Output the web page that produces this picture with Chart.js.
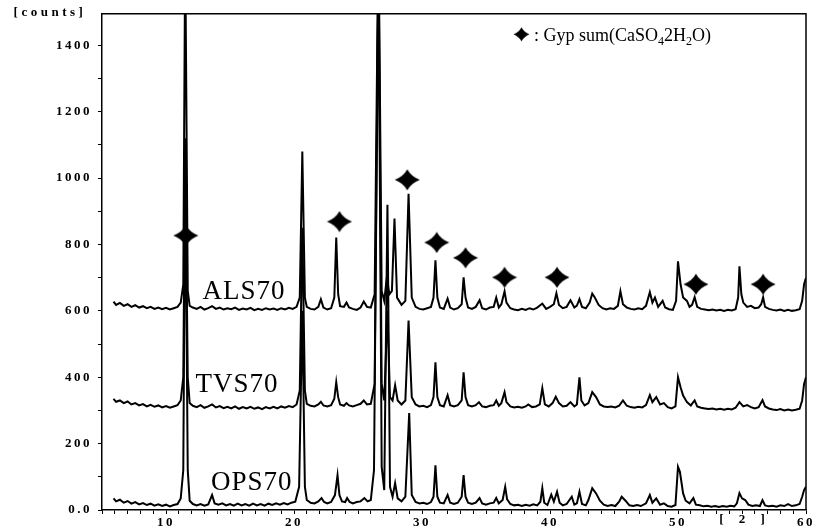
<!DOCTYPE html>
<html>
<head>
<meta charset="utf-8">
<script src="https://cdn.jsdelivr.net/npm/chart.js@4/dist/chart.umd.min.js"></script>
<style>
  html, body { margin: 0; padding: 0; background: #fff; }
  canvas { display: block; }
</style>
</head>
<body>
<canvas id="xrdChart" width="826" height="531"></canvas>
<script>
// 2-theta / counts pairs, one trace per sample (offset as drawn)
const als70 = [
  [5.9,628],[6.1,618],[6.4,624],[6.7,615],[7.0,620],[7.3,612],[7.6,617],[7.9,610],[8.2,614],[8.5,608],
  [8.8,612],[9.1,606],[9.4,610],[9.7,605],[10.0,609],[10.3,604],[10.6,608],[10.9,612],[11.15,625],[11.35,680],
  [11.5,1700],[11.7,660],[11.85,615],[12.1,610],[12.4,606],[12.7,612],[13.0,604],[13.3,608],[13.6,614],[13.9,606],
  [14.2,610],[14.5,604],[14.8,608],[15.1,605],[15.4,610],[15.7,603],[16.0,607],[16.3,604],[16.6,609],[16.9,602],
  [17.2,606],[17.5,603],[17.8,608],[18.1,604],[18.4,607],[18.7,603],[19.0,608],[19.3,604],[19.6,609],[19.9,606],
  [20.2,612],[20.45,640],[20.65,1080],[20.85,640],[21.0,612],[21.3,606],[21.6,604],[21.9,612],[22.1,635],[22.3,610],
  [22.6,604],[22.9,608],[23.15,640],[23.3,821],[23.45,650],[23.6,614],[23.9,612],[24.1,625],[24.3,610],[24.6,606],
  [24.9,603],[25.2,610],[25.45,628],[25.7,612],[26.0,610],[26.3,650],[26.6,1750],[26.85,660],[27.05,630],[27.25,700],
  [27.45,650],[27.65,660],[27.85,878],[28.05,640],[28.4,618],[28.7,630],[28.95,953],[29.2,640],[29.5,612],[29.8,606],
  [30.1,604],[30.4,608],[30.7,612],[30.9,640],[31.05,752],[31.2,640],[31.4,610],[31.7,606],[32.0,637],[32.2,610],
  [32.5,604],[32.8,608],[33.1,620],[33.25,701],[33.4,640],[33.6,610],[33.9,606],[34.2,612],[34.5,632],[34.7,608],
  [35.0,604],[35.3,610],[35.6,612],[35.8,640],[36.0,610],[36.2,620],[36.45,659],[36.6,625],[36.9,608],[37.2,604],
  [37.5,602],[37.8,606],[38.1,603],[38.4,608],[38.7,604],[39.0,610],[39.4,622],[39.7,606],[40.0,612],[40.3,620],
  [40.5,653],[40.7,618],[41.0,608],[41.3,612],[41.6,632],[41.9,610],[42.1,616],[42.3,635],[42.5,612],[42.8,608],
  [43.1,625],[43.3,652],[43.5,640],[43.8,618],[44.1,608],[44.4,604],[44.7,608],[45.0,606],[45.3,615],[45.5,659],
  [45.7,620],[46.0,610],[46.3,606],[46.6,604],[46.9,608],[47.2,605],[47.5,615],[47.8,656],[48.0,625],[48.2,640],
  [48.45,612],[48.8,630],[49.0,610],[49.3,605],[49.6,603],[49.85,630],[50.0,749],[50.2,680],[50.4,640],[50.7,630],
  [50.9,612],[51.1,618],[51.3,641],[51.5,612],[51.8,606],[52.1,604],[52.4,602],[52.7,604],[53.0,601],[53.3,603],
  [53.6,600],[53.9,603],[54.2,601],[54.5,605],[54.7,640],[54.8,734],[54.95,650],[55.1,625],[55.4,612],[55.7,615],
  [56.0,608],[56.3,610],[56.5,620],[56.65,641],[56.8,612],[57.1,606],[57.4,603],[57.7,601],[58.0,604],[58.3,600],
  [58.6,603],[58.9,600],[59.2,602],[59.5,605],[59.7,630],[59.85,680],[60.0,700]
];

const tvs70 = [
  [5.9,335],[6.1,326],[6.4,330],[6.7,322],[7.0,327],[7.3,318],[7.6,322],[7.9,315],[8.2,319],[8.5,312],
  [8.8,317],[9.1,311],[9.4,315],[9.7,309],[10.0,313],[10.3,308],[10.6,312],[10.9,316],[11.15,330],[11.35,400],
  [11.5,1120],[11.7,400],[11.85,322],[12.1,314],[12.4,310],[12.7,316],[13.0,308],[13.3,312],[13.6,318],[13.9,309],
  [14.2,313],[14.5,307],[14.8,311],[15.1,306],[15.4,312],[15.7,305],[16.0,310],[16.3,306],[16.6,311],[16.9,305],
  [17.2,309],[17.5,304],[17.8,310],[18.1,306],[18.4,311],[18.7,306],[19.0,312],[19.3,308],[19.6,313],[19.9,310],
  [20.2,318],[20.45,360],[20.65,850],[20.85,360],[21.0,320],[21.3,314],[21.6,312],[21.9,318],[22.1,326],[22.3,315],
  [22.6,312],[22.9,316],[23.15,335],[23.3,385],[23.45,340],[23.6,318],[23.9,314],[24.1,322],[24.3,315],[24.6,312],
  [24.9,316],[25.2,320],[25.45,330],[25.7,318],[26.0,320],[26.3,380],[26.6,1700],[26.85,380],[27.05,330],[27.3,600],
  [27.5,340],[27.7,330],[27.9,376],[28.1,330],[28.4,318],[28.7,330],[28.95,571],[29.2,340],[29.5,318],[29.8,312],
  [30.1,314],[30.4,310],[30.7,316],[30.9,340],[31.05,445],[31.2,340],[31.4,316],[31.7,312],[32.0,346],[32.2,316],
  [32.5,312],[32.8,316],[33.1,330],[33.25,415],[33.4,340],[33.6,316],[33.9,312],[34.2,316],[34.45,325],[34.7,312],
  [35.0,310],[35.3,314],[35.6,316],[35.8,330],[36.0,314],[36.2,322],[36.45,355],[36.6,325],[36.9,312],[37.2,309],
  [37.5,311],[37.8,308],[38.1,312],[38.3,318],[38.6,310],[38.9,312],[39.2,318],[39.4,367],[39.6,318],[39.9,312],
  [40.2,322],[40.45,341],[40.7,322],[41.0,312],[41.3,314],[41.6,325],[41.9,312],[42.1,318],[42.3,400],[42.45,330],
  [42.7,315],[43.0,322],[43.3,355],[43.6,340],[43.9,318],[44.2,312],[44.5,310],[44.8,312],[45.1,309],[45.4,314],
  [45.7,330],[46.0,314],[46.3,310],[46.6,308],[46.9,311],[47.2,309],[47.5,316],[47.8,346],[48.0,325],[48.3,340],
  [48.6,318],[48.9,322],[49.2,310],[49.5,306],[49.8,312],[50.0,400],[50.2,370],[50.4,345],[50.7,325],[51.0,315],
  [51.3,330],[51.5,312],[51.8,308],[52.1,306],[52.4,304],[52.7,306],[53.0,303],[53.3,305],[53.6,302],[53.9,305],
  [54.2,303],[54.5,308],[54.8,325],[55.1,312],[55.4,316],[55.7,310],[56.0,306],[56.3,310],[56.6,331],[56.8,312],
  [57.1,306],[57.4,303],[57.7,301],[58.0,304],[58.3,300],[58.6,303],[58.9,300],[59.2,302],[59.5,305],[59.7,330],
  [59.85,380],[60.0,400]
];

const ops70 = [
  [5.9,35],[6.1,26],[6.4,31],[6.7,22],[7.0,27],[7.3,19],[7.6,24],[7.9,17],[8.2,21],[8.5,15],
  [8.8,19],[9.1,13],[9.4,17],[9.7,12],[10.0,16],[10.3,11],[10.6,15],[10.9,18],[11.15,35],[11.35,120],
  [11.5,1045],[11.7,120],[11.85,28],[12.1,18],[12.4,14],[12.7,18],[13.0,13],[13.3,17],[13.6,45],[13.8,20],
  [14.1,16],[14.4,20],[14.7,14],[15.0,18],[15.3,13],[15.6,19],[15.9,14],[16.2,18],[16.5,13],[16.8,19],
  [17.1,14],[17.4,18],[17.7,13],[18.0,19],[18.3,15],[18.6,20],[18.9,16],[19.2,21],[19.5,17],[19.8,22],
  [20.1,25],[20.4,70],[20.65,600],[20.85,70],[21.0,30],[21.3,22],[21.6,20],[21.9,26],[22.15,36],[22.35,24],
  [22.6,20],[22.9,24],[23.2,45],[23.4,105],[23.55,45],[23.75,26],[24.0,24],[24.15,36],[24.35,24],[24.6,20],
  [24.9,24],[25.2,26],[25.5,36],[25.75,26],[26.0,30],[26.25,120],[26.6,1650],[26.85,130],[27.05,60],[27.3,920],
  [27.5,70],[27.7,40],[27.9,81],[28.1,35],[28.4,26],[28.7,40],[29.0,292],[29.2,45],[29.5,24],[29.8,20],
  [30.1,22],[30.4,18],[30.7,24],[30.9,40],[31.05,135],[31.2,40],[31.4,22],[31.7,20],[32.0,45],[32.2,22],
  [32.5,18],[32.8,22],[33.1,40],[33.25,105],[33.4,40],[33.6,22],[33.9,18],[34.2,22],[34.5,36],[34.7,20],
  [35.0,16],[35.3,20],[35.6,22],[35.8,36],[36.0,20],[36.3,30],[36.5,70],[36.65,32],[36.9,18],[37.2,14],
  [37.5,16],[37.8,12],[38.1,16],[38.4,13],[38.7,17],[39.0,14],[39.25,25],[39.4,66],[39.55,22],[39.8,15],
  [40.1,46],[40.3,25],[40.55,55],[40.75,22],[41.0,14],[41.3,18],[41.7,40],[41.9,16],[42.1,20],[42.3,55],
  [42.5,18],[42.8,14],[43.0,30],[43.3,66],[43.6,50],[43.9,28],[44.2,16],[44.5,12],[44.8,15],[45.1,12],
  [45.4,25],[45.6,40],[45.9,28],[46.2,14],[46.5,12],[46.8,15],[47.1,12],[47.5,20],[47.8,45],[48.0,22],
  [48.3,35],[48.6,16],[48.9,20],[49.2,12],[49.5,10],[49.8,15],[50.0,130],[50.15,115],[50.4,50],[50.6,28],
  [50.9,20],[51.2,36],[51.4,16],[51.7,14],[52.0,11],[52.3,13],[52.6,10],[52.9,12],[53.2,9],[53.5,12],
  [53.8,10],[54.1,13],[54.4,11],[54.6,20],[54.8,51],[55.0,35],[55.25,30],[55.5,16],[55.8,12],[56.1,14],
  [56.4,12],[56.6,30],[56.8,14],[57.1,11],[57.4,13],[57.7,10],[58.0,14],[58.3,12],[58.6,18],[58.9,12],
  [59.2,14],[59.5,18],[59.7,40],[59.85,60],[60.0,70]
];

// gypsum reflections flagged on the ALS70 trace
const gypsumX = [11.55, 23.55, 28.85, 31.15, 33.4, 36.45, 40.55, 51.4, 56.65];
const gypsumY = [827, 869, 995, 806, 760, 701, 701, 680, 680];

const seriesNames = ['ALS70', 'TVS70', 'OPS70'];
const xTickLabels = [10, 20, 30, 40, 50, 60];
const yTickValues = [0, 200, 400, 600, 800, 1000, 1200, 1400];
const yTickLabels = ['0.0', '200', '400', '600', '800', '1000', '1200', '1400'];

const TICK_FONT = { family: 'Liberation Serif', size: 13, weight: 'bold' };

// four pointed star used for the gypsum flags
function makeStar(w, h) {
  const c = document.createElement('canvas');
  c.width = w; c.height = h;
  const g = c.getContext('2d');
  const mx = w / 2, my = h / 2, rx = w / 2 - 0.5, ry = h / 2 - 0.5;
  const kx = w * 0.15, ky = h * 0.15;
  g.fillStyle = '#000';
  g.beginPath();
  g.moveTo(mx, my - ry);
  g.quadraticCurveTo(mx + kx, my - ky, mx + rx, my);
  g.quadraticCurveTo(mx + kx, my + ky, mx, my + ry);
  g.quadraticCurveTo(mx - kx, my + ky, mx - rx, my);
  g.quadraticCurveTo(mx - kx, my - ky, mx, my - ry);
  g.fill();
  return c;
}
const starBig = makeStar(26, 22);
const starSmall = makeStar(17, 15);

function toPoints(arr) {
  return arr.map(p => ({ x: p[0], y: p[1] }));
}

const spacingPlugin = {
  id: 'spacing',
  beforeUpdate(chart) { chart.ctx.letterSpacing = '2.5px'; },
  beforeDraw(chart) { chart.ctx.letterSpacing = '2.5px'; }
};

const decorPlugin = {
  id: 'decor',
  afterDraw(chart) {
    const ctx = chart.ctx;
    const a = chart.chartArea;
    const xs = chart.scales.x, ys = chart.scales.y;
    ctx.save();
    // top and right frame
    ctx.strokeStyle = '#000';
    ctx.lineWidth = 1.5;
    ctx.beginPath();
    ctx.moveTo(a.left, a.top);
    ctx.lineTo(a.right, a.top);
    ctx.lineTo(a.right, a.bottom);
    ctx.stroke();

    ctx.fillStyle = '#000';
    ctx.letterSpacing = '3.5px';
    ctx.font = 'bold 13px "Liberation Serif"';
    ctx.textAlign = 'center';
    ctx.textBaseline = 'middle';
    ctx.fillText('[counts]', 50, 13);
    ctx.letterSpacing = '6px';
    ctx.fillText('[ 2 ]', 745, 520);

    // sample names
    ctx.letterSpacing = '1px';
    ctx.font = '27px "Liberation Serif"';
    const namePos = [[16.1, 656], [15.55, 376], [16.7, 81]];
    seriesNames.forEach((n, i) => {
      ctx.fillText(n, xs.getPixelForValue(namePos[i][0]), ys.getPixelForValue(namePos[i][1]));
    });

    // key
    ctx.drawImage(starSmall, a.left + 411, a.top + 13);
    ctx.letterSpacing = '0px';
    ctx.textAlign = 'left';
    ctx.textBaseline = 'alphabetic';
    let tx = a.left + 432;
    const ty = a.top + 27;
    const parts = [[': Gyp sum(CaSO', 0], ['4', 1], ['2H', 0], ['2', 1], ['O)', 0]];
    parts.forEach(p => {
      ctx.font = p[1] ? '12px "Liberation Serif"' : '18px "Liberation Serif"';
      ctx.fillText(p[0], tx, ty + (p[1] ? 4 : 0));
      tx += ctx.measureText(p[0]).width;
    });
    ctx.restore();
  }
};

const lineStyle = {
  borderColor: '#000',
  borderWidth: 2,
  pointRadius: 0,
  tension: 0,
  fill: false
};

new Chart(document.getElementById('xrdChart'), {
  type: 'line',
  data: {
    datasets: [
      Object.assign({ label: seriesNames[0], data: toPoints(als70) }, lineStyle),
      Object.assign({ label: seriesNames[1], data: toPoints(tvs70) }, lineStyle),
      Object.assign({ label: seriesNames[2], data: toPoints(ops70) }, lineStyle),
      {
        label: 'Gypsum',
        type: 'scatter',
        data: gypsumX.map((x, i) => ({ x: x, y: gypsumY[i] })),
        pointStyle: starBig,
        showLine: false
      }
    ]
  },
  options: {
    responsive: false,
    animation: false,
    layout: { padding: { top: 13, right: 20, left: 0, bottom: 0 } },
    plugins: {
      legend: { display: false },
      tooltip: { enabled: false }
    },
    scales: {
      x: {
        type: 'linear',
        min: 5,
        max: 60,
        border: { display: true, color: '#000', width: 1.5 },
        grid: { display: true, drawOnChartArea: false, drawTicks: true, tickLength: 4, color: '#000' },
        ticks: {
          stepSize: 1,
          autoSkip: false,
          maxRotation: 0,
          padding: 1,
          color: '#000',
          font: TICK_FONT,
          callback: v => xTickLabels.includes(v) ? String(v) : ''
        },
        afterFit: s => { s.height = 21; }
      },
      y: {
        min: 0,
        max: 1495,
        border: { display: true, color: '#000', width: 1.5 },
        grid: { display: true, drawOnChartArea: false, drawTicks: true, tickLength: 4, color: '#000' },
        afterBuildTicks: s => {
          const t = [];
          for (let v = 0; v <= 1400; v += 100) t.push({ value: v });
          s.ticks = t;
        },
        ticks: {
          autoSkip: false,
          padding: 6,
          color: '#000',
          font: TICK_FONT,
          callback: v => {
            const i = yTickValues.indexOf(v);
            return i >= 0 ? yTickLabels[i] : '';
          }
        },
        afterFit: s => { s.width = 102; }
      }
    }
  },
  plugins: [spacingPlugin, decorPlugin]
});
</script>
</body>
</html>
